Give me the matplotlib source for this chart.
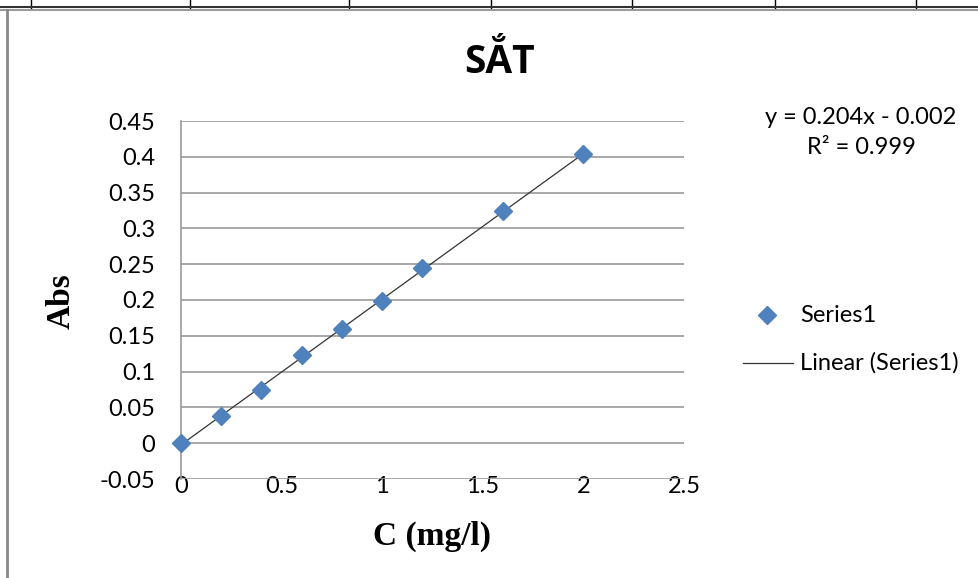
import numpy as np
import matplotlib
matplotlib.use("Agg")
import matplotlib.pyplot as plt
from matplotlib.lines import Line2D

conc = [0.0, 0.2, 0.4, 0.6, 0.8, 1.0, 1.2, 1.6, 2.0]
absb = [0.000, 0.038, 0.075, 0.123, 0.160, 0.198, 0.244, 0.324, 0.404]
yticks = [-0.05, 0, 0.05, 0.1, 0.15, 0.2, 0.25, 0.3, 0.35, 0.4, 0.45]
ytick_labels = ["-0.05", "0", "0.05", "0.1", "0.15", "0.2", "0.25", "0.3", "0.35", "0.4", "0.45"]
xticks = [0, 0.5, 1, 1.5, 2, 2.5]
xtick_labels = ["0", "0.5", "1", "1.5", "2", "2.5"]

W, H = 979, 578
fig = plt.figure(figsize=(W / 100, H / 100), dpi=100)
fig.patch.set_facecolor("white")

# spreadsheet frame
def fx(px): return px / W
def fy(py): return 1 - py / H
for xc in [31, 190, 349, 491, 632, 775, 916]:
    fig.add_artist(Line2D([fx(xc), fx(xc)], [fy(0), fy(8)], color="black", lw=1))
fig.add_artist(Line2D([0, 1], [fy(7), fy(7)], color="#333333", lw=1.5))
fig.add_artist(Line2D([0, 1], [fy(9.5), fy(9.5)], color="#888888", lw=1.2))
fig.add_artist(Line2D([fx(7), fx(7)], [fy(9.5), 0], color="#888888", lw=2))

ax = fig.add_axes([fx(181), fy(479), fx(684) - fx(181), fy(121) - fy(479)])
ax.set_xlim(0, 2.5)
ax.set_ylim(-0.05, 0.45)
ax.set_yticks(yticks)
ax.set_yticklabels(ytick_labels)
ax.set_xticks(xticks)
ax.set_xticklabels(xtick_labels)
for s in ["top", "right", "bottom"]:
    ax.spines[s].set_visible(False)
ax.spines["left"].set_color("#999999")
ax.spines["left"].set_linewidth(1.2)
ax.grid(axis="y", color="#999999", lw=1.2)
ax.set_axisbelow(True)
ax.tick_params(length=0, labelsize=17, colors="black")
ax.tick_params(axis="y", pad=18.5)
ax.tick_params(axis="x", pad=-2)
for lab in ax.get_xticklabels() + ax.get_yticklabels():
    lab.set_fontfamily("Lato")

slope, intercept = np.polyfit(conc, absb, 1)
xs = np.array([min(conc), max(conc)])
ax.plot(xs, slope * xs + intercept, color="#333333", lw=0.9, zorder=2)
ax.plot(conc, absb, linestyle="none", marker="D", ms=9.5, color="#4F81BD",
        markeredgecolor="#4F81BD", zorder=3, clip_on=False)

fig.text(fx(499), fy(73), "SẮT", ha="center", va="baseline", fontsize=28,
         fontweight="bold", family="Open Sans")
fig.text(fx(432), fy(545), "C (mg/l)", ha="center", va="baseline", fontsize=24,
         fontweight="bold", family="Liberation Serif")
fig.text(fx(61.5), fy(301), "Abs", ha="center", va="center", fontsize=24,
         fontweight="bold", family="Liberation Serif", rotation=90)

fig.text(fx(861), fy(117), "y = 0.204x - 0.002", ha="center", va="center",
         fontsize=17, family="Lato")
fig.text(fx(861), fy(148), "R² = 0.999", ha="center", va="center",
         fontsize=17, family="Lato")

fig.add_artist(Line2D([fx(767)], [fy(315)], marker="D", ms=9, color="#4F81BD",
                      linestyle="none"))
fig.text(fx(800), fy(315), "Series1", ha="left", va="center", fontsize=17, family="Lato")
fig.add_artist(Line2D([fx(743), fx(793)], [fy(363), fy(363)], color="#333333", lw=0.9))
fig.text(fx(800), fy(363), "Linear (Series1)", ha="left", va="center", fontsize=17,
         family="Lato")

fig.savefig("out.png", dpi=100)
